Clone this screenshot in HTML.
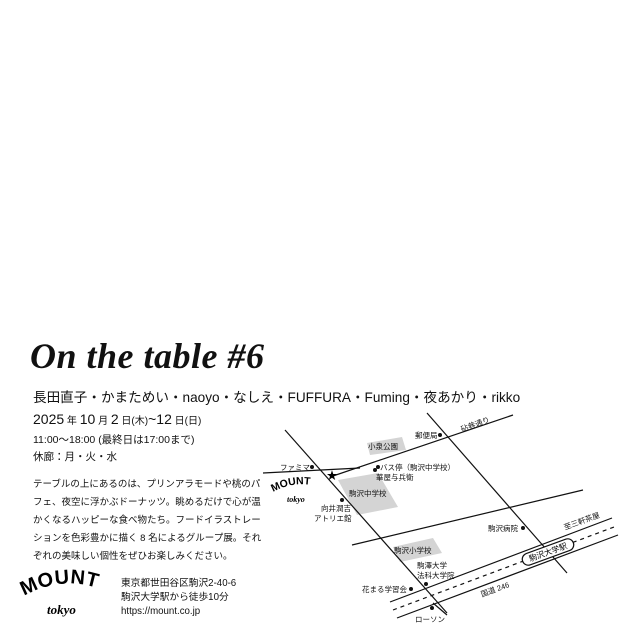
<!DOCTYPE html>
<html><head><meta charset="utf-8"><style>
html,body{margin:0;padding:0;background:#fff}
body{width:640px;height:640px;position:relative;overflow:hidden;font-family:"Liberation Sans","Noto Sans CJK JP",sans-serif;color:#111}
.t{position:absolute;white-space:nowrap}
</style></head><body>
<div class="t" style="left:30px;top:335px;font-family:'Liberation Serif',serif;font-style:italic;font-weight:bold;font-size:36px;letter-spacing:0.5px">On the table #6</div>
<div class="t" style="left:33px;top:386px;font-size:13.6px">長田直子・かまためい・naoyo・なしえ・FUFFURA・Fuming・夜あかり・rikko</div>
<div class="t" style="left:33px;top:411px;font-size:14px">2025<span style="font-size:10px"> 年 </span>10<span style="font-size:10px"> 月 </span>2<span style="font-size:10px"> 日(木)</span>~12<span style="font-size:10px"> 日(日)</span></div>
<div class="t" style="left:33px;top:432px;font-size:10.5px">11:00～18:00 (最終日は17:00まで)</div>
<div class="t" style="left:33px;top:449px;font-size:10.5px">休廊：月・火・水</div>
<div class="t" style="left:33px;top:476px;font-size:9.5px;line-height:18px">テーブルの上にあるのは、プリンアラモードや桃のパ<br>フェ、夜空に浮かぶドーナッツ。眺めるだけで心が温<br>かくなるハッピーな食べ物たち。フードイラストレー<br>ションを色彩豊かに描く 8 名によるグループ展。それ<br>ぞれの美味しい個性をぜひお楽しみください。</div>
<div class="t" style="left:121px;top:577px;font-size:9.7px;line-height:14px">東京都世田谷区駒沢2-40-6<br>駒沢大学駅から徒歩10分<br>https://mount.co.jp</div>
<svg width="640" height="640" style="position:absolute;left:0;top:0" font-family="Liberation Sans,Noto Sans CJK JP,sans-serif">
<defs>
<path id="arc1" d="M24 596 Q67 572 112 594"/>
<path id="arc2" d="M273 492 Q298 478 326 489"/>
</defs>
<text font-size="20" font-weight="bold" font-family="Liberation Sans,sans-serif" letter-spacing="0.5"><textPath href="#arc1">MOUNT</textPath></text>
<text x="47" y="614" font-size="13" font-style="italic" font-weight="bold" font-family="Liberation Serif,serif">tokyo</text>
<g fill="#d4d4d4">
<polygon points="367,443 402,437 406,450 370,455"/>
<polygon points="338,480 378,473 398,507 357,515"/>
<polygon points="393,547 433,538 442,553 400,562"/>
</g>
<g stroke="#111" stroke-width="1.2" fill="none">
<line x1="285" y1="430" x2="447" y2="613"/>
<line x1="427" y1="413" x2="567" y2="573"/>
<line x1="330" y1="477" x2="513" y2="415"/>
<line x1="263" y1="473" x2="360" y2="468"/>
<line x1="352" y1="545" x2="583" y2="490"/>
<line x1="390" y1="602" x2="612" y2="518"/>
<line x1="397" y1="618" x2="618" y2="535"/>
<line x1="393" y1="610" x2="614" y2="527" stroke-dasharray="4,4"/>
<line x1="433" y1="603" x2="447" y2="615"/>
<rect x="521" y="546" width="54" height="12" rx="6" fill="#fff" transform="rotate(-20 548 552)"/>
</g>
<text x="548" y="555" font-size="8" text-anchor="middle" transform="rotate(-20 548 552)">駒沢大学駅</text>
<text x="332" y="479" font-size="11" text-anchor="middle">★</text>
<text font-size="10.5" font-weight="bold" font-family="Liberation Sans,sans-serif"><textPath href="#arc2">MOUNT</textPath></text>
<text x="287" y="502" font-size="8" font-style="italic" font-weight="bold" font-family="Liberation Serif,serif">tokyo</text>
<g fill="#111">
<circle cx="312" cy="467" r="2"/><circle cx="378" cy="467" r="2"/><circle cx="375" cy="470" r="2"/>
<circle cx="440" cy="435" r="2"/><circle cx="342" cy="500" r="2"/><circle cx="523" cy="528" r="2"/>
<circle cx="426" cy="584" r="2"/><circle cx="411" cy="589" r="2"/><circle cx="432" cy="608" r="2"/>
</g>
<g font-size="7.5" fill="#111">
<text x="280" y="470">ファミマ</text>
<text x="380" y="470">バス停（駒沢中学校）</text>
<text x="376" y="480">華屋与兵衛</text>
<text x="415" y="438">郵便局</text>
<text x="368" y="449">小泉公園</text>
<text x="349" y="496">駒沢中学校</text>
<text x="321" y="511">向井潤吉</text>
<text x="314" y="521">アトリエ館</text>
<text x="488" y="531">駒沢病院</text>
<text x="394" y="553">駒沢小学校</text>
<text x="417" y="568">駒澤大学</text>
<text x="417" y="578">法科大学院</text>
<text x="362" y="592">花まる学習会</text>
<text x="415" y="622">ローソン</text>
<text x="462" y="432" transform="rotate(-20 462 432)">砧巷通り</text>
<text x="565" y="530" transform="rotate(-20 565 530)">至三軒茶屋</text>
<text x="482" y="597" transform="rotate(-20 482 597)">国道 246</text>
</g>
</svg>
</body></html>
